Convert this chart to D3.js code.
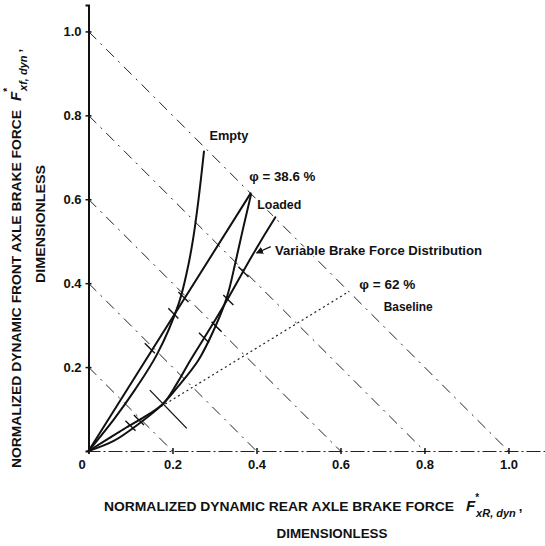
<!DOCTYPE html>
<html>
<head>
<meta charset="utf-8">
<script src="https://cdn.jsdelivr.net/npm/d3@7"></script>
<style>
  html, body { margin: 0; padding: 0; background: #fff; }
  svg { display: block; }
  text { font-family: "Liberation Sans Narrow", "Liberation Sans", Arial, sans-serif; font-weight: bold; fill: #111; }
</style>
</head>
<body>
<svg id="chart" width="545" height="546"></svg>
<script>
// ---------- data ----------
const xTickValues = [0, 0.2, 0.4, 0.6, 0.8, 1.0];
const xTickLabels = ["0", "0.2", "0.4", "0.6", "0.8", "1.0"];
const yTickValues = [0.2, 0.4, 0.6, 0.8, 1.0];
const yTickLabels = ["0.2", "0.4", "0.6", "0.8", "1.0"];

// constant total deceleration lines  (x + y = c)
const decelLevels = [0.2, 0.4, 0.6, 0.8, 1.0];

// Empty vehicle curve
const emptyX = [0, 0.06, 0.11, 0.164, 0.215, 0.235, 0.249, 0.262, 0.275];
const emptyY = [0, 0.075, 0.145, 0.232, 0.352, 0.43, 0.505, 0.60, 0.714];

// phi = 38.6 % line (straight)
const phi386X = [0, 0.386];
const phi386Y = [0, 0.614];

// Loaded curve
const loadedX = [0, 0.06, 0.12, 0.175, 0.22, 0.262, 0.30, 0.33, 0.35, 0.368, 0.387];
const loadedY = [0, 0.024, 0.065, 0.11, 0.162, 0.217, 0.292, 0.368, 0.45, 0.53, 0.611];

// Variable brake force distribution
const variableX = [0, 0.09, 0.175, 0.21, 0.243, 0.29, 0.33, 0.375, 0.41, 0.445];
const variableY = [0, 0.056, 0.11, 0.16, 0.217, 0.293, 0.36, 0.44, 0.50, 0.557];

// phi = 62 % baseline (dotted)
const phi62X = [0, 0.62];
const phi62Y = [0, 0.38];

// short solid hash across the knee
const hashX = [0.146, 0.234];
const hashY = [0.145, 0.054];

// small tick marks on the curves
const markX = [0.146, 0.202, 0.226, 0.12, 0.305, 0.333, 0.369, 0.10, 0.275];
const markY = [0.245, 0.328, 0.367, 0.074, 0.296, 0.36, 0.427, 0.06, 0.27];

// ---------- chart ----------
const svg = d3.select("#chart");
const x = d3.scaleLinear().domain([0, 1.087]).range([88.5, 545]);
const y = d3.scaleLinear().domain([0, 1.063]).range([451, 5]);

const line = d3.line().x(d => x(d[0])).y(d => y(d[1]));
const smooth = d3.line().x(d => x(d[0])).y(d => y(d[1])).curve(d3.curveCatmullRom.alpha(0.5));
const zip = (a, b) => a.map((v, i) => [v, b[i]]);

// deceleration diagonals
svg.append("g").selectAll("path").data(decelLevels).join("path")
  .attr("d", c => line([[0, c], [c, 0]]))
  .attr("fill", "none").attr("stroke", "#222").attr("stroke-width", 1)
  .attr("stroke-dasharray", "11,6,2,6");

// phi = 62 % dotted line
svg.append("path").attr("d", line(zip(phi62X, phi62Y)))
  .attr("fill", "none").attr("stroke", "#222").attr("stroke-width", 1.2)
  .attr("stroke-dasharray", "2,3");

// axes
const xAxis = d3.axisBottom(x).tickValues(xTickValues)
  .tickFormat((d, i) => xTickLabels[i]).tickSize(3).tickPadding(6);
const gx = svg.append("g").attr("transform", `translate(0,${y(0)})`).call(xAxis);
gx.select(".domain").attr("stroke", "#222").attr("stroke-width", 1.2).attr("stroke-dasharray", "14,3,2,3");
gx.selectAll(".tick line").attr("stroke", "#111").attr("stroke-width", 1.5).attr("y1", -3);
gx.selectAll(".tick text").attr("font-size", 13).attr("fill", "#111")
  .attr("font-family", "'Liberation Sans', Arial, sans-serif").attr("font-weight", "bold");
gx.selectAll(".tick").filter(d => d === 0).select("text").attr("dx", -7);

const yAxis = d3.axisLeft(y).tickValues(yTickValues)
  .tickFormat((d, i) => yTickLabels[i]).tickSize(3).tickPadding(4);
const gy = svg.append("g").attr("transform", `translate(${x(0)},0)`).call(yAxis);
gy.select(".domain").attr("stroke", "#111").attr("stroke-width", 2);
gy.selectAll(".tick line").attr("stroke", "#111").attr("stroke-width", 1.5).attr("x1", 3);
gy.selectAll(".tick text").attr("font-size", 13).attr("fill", "#111")
  .attr("font-family", "'Liberation Sans', Arial, sans-serif").attr("font-weight", "bold");
svg.selectAll(".domain").attr("fill", "none");

// curves
const curveStyle = sel => sel.attr("fill", "none").attr("stroke", "#111").attr("stroke-width", 2)
  .attr("stroke-linejoin", "round").attr("stroke-linecap", "round");
svg.append("path").attr("d", smooth(zip(emptyX, emptyY))).call(curveStyle);
svg.append("path").attr("d", line(zip(phi386X, phi386Y))).call(curveStyle);
svg.append("path").attr("d", smooth(zip(loadedX, loadedY))).call(curveStyle);
svg.append("path").attr("d", smooth(zip(variableX, variableY))).call(curveStyle);

// hash across the knee
svg.append("path").attr("d", line(zip(hashX, hashY)))
  .attr("stroke", "#111").attr("stroke-width", 1.3);

// tick marks along curves (short segments along the diagonal direction)
svg.append("g").selectAll("path").data(zip(markX, markY)).join("path")
  .attr("d", d => line([[d[0] - 0.012, d[1] + 0.012], [d[0] + 0.012, d[1] - 0.012]]))
  .attr("stroke", "#111").attr("stroke-width", 1.4);

// labels
const labels = [
  { t: "Empty", px: 0.288, py: 0.742, w: 39 },
  { t: "\u03c6 = 38.6 %", px: 0.383, py: 0.643, w: 66 },
  { t: "Loaded", px: 0.402, py: 0.577, w: 44 },
  { t: "Variable Brake Force Distribution", px: 0.444, py: 0.467, w: 207 },
  { t: "\u03c6 = 62 %", px: 0.645, py: 0.387, w: 56 },
  { t: "Baseline", px: 0.703, py: 0.333, w: 49 }
];
svg.append("g").selectAll("text").data(labels).join("text")
  .attr("x", d => x(d.px)).attr("y", d => y(d.py))
  .attr("font-size", 12.5)
  .attr("textLength", d => d.w).attr("lengthAdjust", "spacingAndGlyphs")
  .attr("stroke", "#fff").attr("stroke-width", 3).attr("paint-order", "stroke")
  .text(d => d.t);

// leader arrow for Variable Brake Force Distribution
svg.append("defs").append("marker").attr("id", "arr")
  .attr("viewBox", "0 0 10 10").attr("refX", 9).attr("refY", 5)
  .attr("markerWidth", 6).attr("markerHeight", 6).attr("orient", "auto")
  .append("path").attr("d", "M0,0L10,5L0,10z").attr("fill", "#111");
svg.append("path").attr("d", line([[0.434, 0.487], [0.400, 0.472]]))
  .attr("stroke", "#111").attr("stroke-width", 1.2).attr("marker-end", "url(#arr)");

// x axis title
const xt = svg.append("text").attr("x", 104).attr("y", 511).attr("font-size", 13);
xt.append("tspan").attr("textLength", 350).attr("lengthAdjust", "spacingAndGlyphs")
  .text("NORMALIZED DYNAMIC REAR AXLE BRAKE FORCE");
xt.append("tspan").attr("x", 466).attr("font-style", "italic").attr("font-size", 15).text("F");
xt.append("tspan").attr("dx", 0).attr("dy", -10).attr("font-size", 10).text("*");
xt.append("tspan").attr("dx", -3).attr("dy", 16).attr("font-style", "italic").attr("font-size", 11).text("xR, dyn");
xt.append("tspan").attr("dx", 3).attr("dy", -6).attr("font-size", 13).text(",");
svg.append("text").attr("x", 332).attr("y", 538).attr("text-anchor", "middle")
  .attr("font-size", 13).attr("textLength", 111).attr("lengthAdjust", "spacingAndGlyphs")
  .text("DIMENSIONLESS");

// y axis title (rotated)
const yt = svg.append("text").attr("transform", "translate(21,468) rotate(-90)").attr("font-size", 13);
yt.append("tspan").attr("textLength", 358).attr("lengthAdjust", "spacingAndGlyphs")
  .text("NORMALIZED DYNAMIC FRONT AXLE BRAKE FORCE");
yt.append("tspan").attr("x", 367).attr("font-style", "italic").attr("font-size", 15).text("F");
yt.append("tspan").attr("dx", 0).attr("dy", -10).attr("font-size", 10).text("*");
yt.append("tspan").attr("dx", -3).attr("dy", 16).attr("font-style", "italic").attr("font-size", 11).text("xf, dyn");
yt.append("tspan").attr("dx", 3).attr("dy", -6).attr("font-size", 13).text(",");
svg.append("text").attr("transform", "translate(45,224) rotate(-90)").attr("text-anchor", "middle")
  .attr("font-size", 13).attr("textLength", 118).attr("lengthAdjust", "spacingAndGlyphs")
  .text("DIMENSIONLESS");
</script>
</body>
</html>
